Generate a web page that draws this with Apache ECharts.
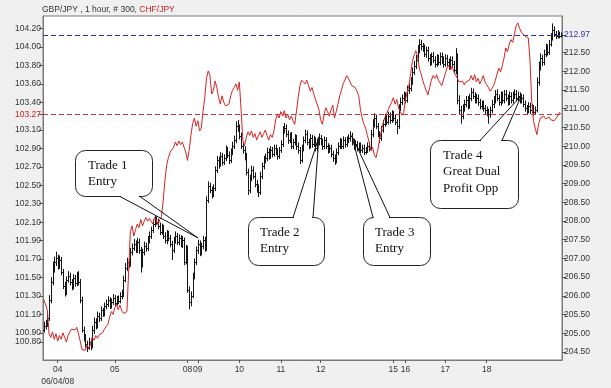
<!DOCTYPE html>
<html><head><meta charset="utf-8">
<script src="https://cdn.jsdelivr.net/npm/echarts@6/dist/echarts.min.js"></script>
<style>html,body{margin:0;padding:0;background:#f0f0f0}#c{width:611px;height:388px}</style>
</head><body><div id="c"></div>
<script>
// GBP/JPY hourly bars (right axis)
const gbpOpen = [
205.10,205.20,205.25,205.41,205.89,206.37,206.75,206.91,207.01,206.80,
206.96,206.64,206.26,206.10,206.43,206.53,206.37,206.26,206.48,206.34,
206.53,206.37,205.89,205.09,204.87,204.71,204.61,204.77,204.66,205.09,
205.30,205.20,205.46,205.41,205.62,205.52,205.73,205.78,205.89,205.73,
205.84,205.94,205.81,205.92,205.86,206.00,206.05,206.43,206.75,206.91,
206.85,207.17,207.28,207.39,207.23,207.44,207.23,206.85,207.17,207.33,
207.28,207.49,207.60,207.76,207.92,208.03,207.98,207.87,207.71,207.82,
207.60,207.49,207.66,207.55,207.39,207.23,207.49,207.60,207.44,207.55,
207.39,207.49,206.91,207.28,206.16,205.84,206.00,206.53,206.91,207.23,
207.39,207.17,207.33,207.49,207.28,208.56,208.94,208.83,208.73,208.89,
209.37,209.63,209.53,209.74,209.58,209.69,209.90,209.77,209.63,209.85,
210.01,210.17,210.54,210.49,210.28,210.01,209.90,209.74,209.31,208.83,
209.15,209.37,209.21,208.99,208.89,208.78,209.21,209.47,209.63,209.69,
209.85,209.74,209.90,209.79,209.95,209.85,209.74,209.90,210.06,210.44,
210.49,210.33,210.17,210.28,210.01,210.11,210.22,210.01,209.90,209.63,
209.95,210.17,210.33,210.11,210.01,210.22,210.06,210.17,209.95,210.11,
210.22,210.11,210.01,210.17,210.01,209.90,209.95,209.79,209.69,209.63,
209.85,210.01,210.11,210.01,210.17,210.06,210.17,210.22,210.28,210.11,
210.01,210.06,209.95,210.01,209.90,209.95,209.85,209.90,210.01,209.95,
210.33,210.60,210.76,210.54,210.33,210.22,210.44,210.60,210.76,210.65,
210.81,210.70,210.86,210.76,210.65,210.54,211.02,211.18,211.29,211.35,
211.24,211.51,211.56,211.72,211.99,212.15,212.31,212.57,212.74,212.68,
212.63,212.47,212.57,212.36,212.25,212.41,212.31,212.20,212.36,212.25,
212.41,212.31,212.20,212.36,212.25,212.15,212.31,212.20,212.04,212.41,
211.24,210.97,210.81,211.02,211.13,211.24,211.08,211.29,211.45,211.35,
211.24,211.29,211.18,211.08,211.13,211.02,210.97,210.92,210.86,210.97,
211.13,211.24,211.40,211.29,211.18,211.35,211.24,211.40,211.29,211.18,
211.35,211.24,211.35,211.40,211.29,211.35,211.24,211.29,211.13,211.02,
210.97,211.08,210.97,211.02,210.92,210.97,211.72,212.15,212.36,212.25,
212.47,212.63,212.52,212.74,212.90,213.11,213.00,212.95,213.00,212.95];
const gbpHigh = [
205.31,205.36,205.55,206.02,206.50,206.92,207.05,207.18,207.10,207.08,
207.04,206.72,206.38,206.52,206.66,206.62,206.45,206.58,206.56,206.64,
206.66,206.45,205.98,205.18,204.98,204.80,204.88,204.86,205.20,205.42,
205.40,205.58,205.55,205.72,205.68,205.82,205.90,205.99,205.96,205.93,
206.05,206.02,206.00,206.01,206.10,206.16,206.54,206.88,207.02,206.99,
207.28,207.40,207.52,207.48,207.55,207.53,207.31,207.26,207.45,207.42,
207.60,207.72,207.85,208.04,208.14,208.12,208.06,207.96,207.93,207.90,
207.70,207.76,207.74,207.63,207.47,207.58,207.72,207.68,207.64,207.62,
207.60,207.56,207.36,207.34,206.25,206.12,206.62,207.00,207.32,207.50,
207.48,207.42,207.60,207.58,208.66,209.06,209.02,208.92,208.98,209.46,
209.74,209.72,209.84,209.82,209.78,210.02,209.98,209.86,209.94,210.12,
210.28,210.66,210.70,210.58,210.36,210.10,210.00,209.82,209.40,209.24,
209.48,209.46,209.30,209.10,208.98,209.32,209.56,209.74,209.80,209.96,
209.94,210.00,209.98,210.04,210.04,209.94,209.98,210.16,210.54,210.62,
210.58,210.42,210.36,210.38,210.20,210.32,210.30,210.10,209.98,210.04,
210.26,210.44,210.42,210.20,210.32,210.30,210.28,210.24,210.20,210.34,
210.30,210.20,210.26,210.24,210.08,210.04,210.04,209.88,209.78,209.94,
210.10,210.22,210.20,210.26,210.24,210.26,210.32,210.40,210.36,210.20,
210.16,210.14,210.10,210.10,210.04,210.04,209.98,210.10,210.10,210.44,
210.72,210.88,210.84,210.62,210.40,210.54,210.70,210.86,210.84,210.92,
210.90,210.96,210.94,210.84,210.72,211.12,211.30,211.38,211.46,211.44,
211.62,211.68,211.84,212.10,212.28,212.44,212.70,212.86,212.84,212.76,
212.72,212.66,212.66,212.46,212.50,212.52,212.40,212.46,212.44,212.50,
212.50,212.40,212.46,212.44,212.34,212.40,212.40,212.28,212.62,212.48,
211.36,211.08,211.12,211.24,211.34,211.34,211.40,211.56,211.54,211.44,
211.40,211.38,211.26,211.22,211.22,211.10,211.06,211.00,211.06,211.24,
211.34,211.50,211.52,211.38,211.46,211.46,211.50,211.50,211.38,211.46,
211.44,211.46,211.52,211.50,211.46,211.44,211.40,211.38,211.22,211.10,
211.18,211.16,211.12,211.10,211.06,211.84,212.26,212.48,212.44,212.58,
212.74,212.72,212.84,213.02,213.28,213.20,213.08,213.10,213.06,213.04];
const gbpLow = [
205.02,205.10,205.17,205.33,205.80,206.28,206.62,206.80,206.70,206.72,
206.55,206.18,205.98,206.02,206.35,206.28,206.15,206.17,206.25,206.26,
206.28,205.80,205.02,204.78,204.62,204.50,204.56,204.55,204.60,204.98,
205.10,205.13,205.30,205.33,205.44,205.45,205.64,205.70,205.65,205.66,
205.76,205.72,205.74,205.78,205.80,205.91,205.97,206.36,206.66,206.75,
206.78,207.08,207.20,207.14,207.15,207.12,206.62,206.76,207.08,207.18,
207.20,207.40,207.52,207.68,207.84,207.90,207.78,207.62,207.63,207.52,
207.40,207.38,207.46,207.30,206.96,207.14,207.40,207.36,207.35,207.30,
207.28,206.82,206.84,206.08,205.64,205.72,205.94,206.44,206.82,207.12,
207.06,207.08,207.24,207.18,207.20,208.48,208.74,208.60,208.64,208.80,
209.28,209.40,209.45,209.48,209.50,209.60,209.68,209.52,209.55,209.76,
209.92,210.08,210.38,210.18,209.92,209.80,209.62,209.22,208.70,208.74,
209.06,209.12,208.90,208.76,208.64,208.70,209.12,209.38,209.54,209.60,
209.64,209.66,209.70,209.72,209.76,209.64,209.66,209.82,209.98,210.34,
210.24,210.06,210.08,209.92,209.92,210.02,209.90,209.80,209.52,209.56,
209.86,210.08,210.02,209.92,209.94,209.96,209.98,209.86,209.86,210.02,
210.02,209.90,209.92,209.92,209.80,209.82,209.70,209.58,209.50,209.54,
209.76,209.92,209.92,209.92,209.96,209.98,210.08,210.12,210.02,209.90,
209.92,209.86,209.86,209.82,209.82,209.76,209.78,209.82,209.86,209.88,
210.24,210.50,210.46,210.24,210.08,210.14,210.36,210.52,210.56,210.58,
210.60,210.62,210.66,210.56,210.32,210.46,210.94,211.10,211.20,211.14,
211.16,211.40,211.46,211.64,211.90,212.06,212.22,212.48,212.56,212.52,
212.38,212.36,212.26,212.14,212.16,212.22,212.10,212.12,212.16,212.16,
212.20,212.10,212.12,212.14,212.04,212.06,212.10,211.94,211.92,211.12,
210.86,210.60,210.72,210.92,211.04,210.98,211.00,211.20,211.26,211.14,
211.14,211.08,210.98,210.98,210.92,210.86,210.80,210.60,210.76,210.88,
211.02,211.14,211.20,211.08,211.08,211.14,211.14,211.20,211.08,211.10,
211.14,211.14,211.26,211.20,211.20,211.14,211.14,211.04,210.92,210.86,
210.88,210.86,210.88,210.82,210.84,210.90,211.62,212.02,212.14,212.16,
212.38,212.42,212.44,212.66,212.82,212.92,212.86,212.88,212.88,212.90];
const gbpClose = [
205.20,205.25,205.41,205.89,206.37,206.75,206.91,207.01,206.80,206.96,
206.64,206.26,206.10,206.43,206.53,206.37,206.26,206.48,206.34,206.53,
206.37,205.89,205.09,204.87,204.71,204.61,204.77,204.66,205.09,205.30,
205.20,205.46,205.41,205.62,205.52,205.73,205.78,205.89,205.73,205.84,
205.94,205.81,205.92,205.86,206.00,206.05,206.43,206.75,206.91,206.85,
207.17,207.28,207.39,207.23,207.44,207.23,206.85,207.17,207.33,207.28,
207.49,207.60,207.76,207.92,208.03,207.98,207.87,207.71,207.82,207.60,
207.49,207.66,207.55,207.39,207.23,207.49,207.60,207.44,207.55,207.39,
207.49,206.91,207.28,206.16,205.84,206.00,206.53,206.91,207.23,207.39,
207.17,207.33,207.49,207.28,208.56,208.94,208.83,208.73,208.89,209.37,
209.63,209.53,209.74,209.58,209.69,209.90,209.77,209.63,209.85,210.01,
210.17,210.54,210.49,210.28,210.01,209.90,209.74,209.31,208.83,209.15,
209.37,209.21,208.99,208.89,208.78,209.21,209.47,209.63,209.69,209.85,
209.74,209.90,209.79,209.95,209.85,209.74,209.90,210.06,210.44,210.49,
210.33,210.17,210.28,210.01,210.11,210.22,210.01,209.90,209.63,209.95,
210.17,210.33,210.11,210.01,210.22,210.06,210.17,209.95,210.11,210.22,
210.11,210.01,210.17,210.01,209.90,209.95,209.79,209.69,209.63,209.85,
210.01,210.11,210.01,210.17,210.06,210.17,210.22,210.28,210.11,210.01,
210.06,209.95,210.01,209.90,209.95,209.85,209.90,210.01,209.95,210.33,
210.60,210.76,210.54,210.33,210.22,210.44,210.60,210.76,210.65,210.81,
210.70,210.86,210.76,210.65,210.54,211.02,211.18,211.29,211.35,211.24,
211.51,211.56,211.72,211.99,212.15,212.31,212.57,212.74,212.68,212.63,
212.47,212.57,212.36,212.25,212.41,212.31,212.20,212.36,212.25,212.41,
212.31,212.20,212.36,212.25,212.15,212.31,212.20,212.04,212.41,211.24,
210.97,210.81,211.02,211.13,211.24,211.08,211.29,211.45,211.35,211.24,
211.29,211.18,211.08,211.13,211.02,210.97,210.92,210.86,210.97,211.13,
211.24,211.40,211.29,211.18,211.35,211.24,211.40,211.29,211.18,211.35,
211.24,211.35,211.40,211.29,211.35,211.24,211.29,211.13,211.02,210.97,
211.08,210.97,211.02,210.92,210.97,211.72,212.15,212.36,212.25,212.47,
212.63,212.52,212.74,212.90,213.11,213.00,212.95,213.00,212.95,212.97];
// CHF/JPY hourly closes (left axis)
const chfClose = [
101.26,101.28,101.15,100.89,100.85,100.91,100.83,100.89,100.81,100.87,
100.83,100.90,100.85,100.80,100.87,100.91,100.94,100.96,100.93,100.96,
100.89,100.81,100.72,100.74,100.71,100.77,100.73,100.78,100.85,100.82,
100.87,100.84,100.88,100.86,100.90,100.94,100.96,100.99,101.07,101.13,
101.10,101.17,101.21,101.15,101.20,101.14,101.11,101.09,101.13,101.11,
102.00,102.06,101.95,102.02,102.08,102.04,102.13,102.06,102.11,102.15,
102.11,102.14,102.12,102.08,102.15,102.12,102.07,102.13,102.16,102.34,
102.56,102.72,102.80,102.86,102.88,102.91,102.97,102.93,102.98,102.94,
102.97,102.95,102.86,102.77,102.88,103.04,103.17,103.23,103.14,103.20,
103.09,103.12,103.30,103.45,103.66,103.74,103.69,103.49,103.53,103.63,
103.56,103.45,103.38,103.47,103.40,103.36,103.34,103.38,103.47,103.53,
103.56,103.60,103.53,103.62,103.32,102.99,102.93,103.02,103.08,103.04,
103.09,103.02,103.06,102.99,103.04,103.08,103.02,103.06,103.10,103.04,
102.99,103.05,103.02,103.09,103.21,103.27,103.23,103.30,103.25,103.31,
103.23,103.27,103.21,103.25,103.20,103.16,103.30,103.45,103.58,103.64,
103.66,103.60,103.64,103.58,103.52,103.56,103.49,103.43,103.45,103.32,
103.21,103.16,103.27,103.34,103.30,103.25,103.32,103.37,103.23,103.30,
103.38,103.47,103.53,103.60,103.64,103.69,103.66,103.62,103.58,103.60,
103.56,103.52,103.47,103.32,103.23,103.16,103.12,103.04,102.97,102.88,
102.91,102.83,102.80,102.88,102.99,103.08,103.17,103.23,103.27,103.32,
103.34,103.40,103.45,103.38,103.43,103.34,103.30,103.26,103.29,103.43,
103.51,103.58,103.71,103.84,103.91,103.96,103.90,103.77,103.71,103.64,
103.58,103.53,103.48,103.56,103.64,103.69,103.66,103.70,103.64,103.62,
103.58,103.60,103.71,103.77,103.80,103.75,103.79,103.73,103.71,103.66,
103.62,103.60,103.63,103.59,103.62,103.60,103.64,103.69,103.64,103.70,
103.62,103.66,103.60,103.64,103.69,103.62,103.59,103.56,103.52,103.54,
103.58,103.64,103.71,103.77,103.73,103.80,103.88,103.99,103.95,104.03,
104.08,104.05,104.14,104.23,104.26,104.20,104.16,104.18,104.12,104.14,
104.10,103.86,103.41,103.20,103.12,103.05,103.17,103.23,103.21,103.25,
103.22,103.20,103.24,103.21,103.23,103.20,103.22,103.25,103.29,103.27];
// day tick labels (bar index -> label)
const dayTickIndex = [8, 41, 83, 89, 113, 137, 160, 202, 209, 232, 256];
const dayTickText = ['04', '05', '08', '09', '10', '11', '12', '15', '16', '17', '18'];
const firstDateText = '06/04/08';
const leftTicks = [100.80, 100.90, 101.10, 101.30, 101.50, 101.70, 101.90, 102.10, 102.30, 102.50, 102.70, 102.90, 103.10, 103.27, 103.40, 103.60, 103.80, 104.00, 104.20];
const rightTicks = [204.50, 205.00, 205.50, 206.00, 206.50, 207.00, 207.50, 208.00, 208.50, 209.00, 209.50, 210.00, 210.50, 211.00, 211.50, 212.00, 212.50, 212.97];
const gbpLast = 212.97;
const chfLast = 103.27;
// callouts: text lines and the bar/price they point to
const calloutText = [['Trade 1', 'Entry'], ['Trade 2', 'Entry'], ['Trade 3', 'Entry'], ['Trade 4', 'Great Dual', 'Profit Opp']];
const calloutBar = [89, 159, 178, 276];
const calloutPrice = [207.55, 210.25, 210.28, 211.35];

const N = gbpClose.length;
const categories = [];
for (let i = 0; i < N; i++) categories.push(String(i));
const tickMap = {};
dayTickIndex.forEach((idx, k) => { tickMap[idx] = dayTickText[k]; });
const barData = [];
for (let i = 0; i < N; i++) barData.push([i, gbpOpen[i], gbpHigh[i], gbpLow[i], gbpClose[i]]);

const chart = echarts.init(document.getElementById('c'), null, {renderer: 'canvas'});
const FONT = 'Liberation Sans, Arial, sans-serif';
const axisFont = {fontFamily: FONT, fontSize: 8.5, color: '#333'};
const GRID = {left: 43, right: 49, top: 16, bottom: 28};

chart.setOption({
  animation: false,
  backgroundColor: '#f0f0f0',
  title: {
    text: '{a|GBP/JPY , 1 hour, # 300, }{b|CHF/JPY}',
    left: 42, top: 5, padding: 0,
    textStyle: {fontWeight: 'normal', rich: {
      a: {color: '#333', fontSize: 8.5, fontFamily: FONT, fontWeight: 'normal'},
      b: {color: '#d02020', fontSize: 8.5, fontFamily: FONT, fontWeight: 'normal'}
    }}
  },
  grid: Object.assign({show: true, backgroundColor: '#ffffff', borderColor: '#7a7a7a', borderWidth: 1}, GRID),
  xAxis: {
    type: 'category', data: categories, boundaryGap: true,
    axisLine: {show: true, lineStyle: {color: '#7a7a7a'}},
    axisTick: {show: true, alignWithLabel: true, length: 3, lineStyle: {color: '#555'},
      interval: (idx) => tickMap[idx] !== undefined},
    axisLabel: Object.assign({}, axisFont, {
      margin: 4, lineHeight: 12,
      interval: (idx) => tickMap[idx] !== undefined,
      formatter: (v, idx) => {
        const t = tickMap[idx] || '';
        return idx === dayTickIndex[0] ? t + '\n' + firstDateText : t;
      }
    }),
    splitLine: {show: false}
  },
  yAxis: [
    {
      type: 'value', position: 'left', min: 100.605, max: 104.336,
      axisLine: {show: true, lineStyle: {color: '#7a7a7a'}},
      axisTick: {show: true, length: 4, customValues: leftTicks, lineStyle: {color: '#555'}},
      axisLabel: Object.assign({}, axisFont, {
        margin: 2, customValues: leftTicks,
        formatter: (v) => v.toFixed(2),
        color: (v) => Math.abs(v - chfLast) < 0.001 ? '#d02020' : '#333'
      }),
      splitLine: {show: false}
    },
    {
      type: 'value', position: 'right', min: 204.286, max: 213.478,
      axisLine: {show: true, lineStyle: {color: '#7a7a7a'}},
      axisTick: {show: true, length: 4, customValues: rightTicks, lineStyle: {color: '#555'}},
      axisLabel: Object.assign({}, axisFont, {
        margin: 2, customValues: rightTicks,
        formatter: (v) => v.toFixed(2),
        color: (v) => Math.abs(v - gbpLast) < 0.001 ? '#3333b0' : '#333'
      }),
      splitLine: {show: false}
    }
  ],
  series: [
    {
      name: 'GBP/JPY', type: 'custom', xAxisIndex: 0, yAxisIndex: 1,
      data: barData,
      encode: {x: 0, y: [1, 2, 3, 4]},
      renderItem: (params, api) => {
        const i = api.value(0);
        const o = api.coord([i, api.value(1)]);
        const h = api.coord([i, api.value(2)]);
        const l = api.coord([i, api.value(3)]);
        const c = api.coord([i, api.value(4)]);
        const px = Math.round(o[0]) + 0.5;
        const st = {stroke: '#151515', lineWidth: 1};
        return {type: 'group', children: [
          {type: 'line', shape: {x1: px, y1: h[1], x2: px, y2: l[1]}, style: st},
          {type: 'line', shape: {x1: px - 1.5, y1: Math.round(o[1]) + 0.5, x2: px, y2: Math.round(o[1]) + 0.5}, style: st},
          {type: 'line', shape: {x1: px, y1: Math.round(c[1]) + 0.5, x2: px + 1.5, y2: Math.round(c[1]) + 0.5}, style: st}
        ]};
      },
      markLine: {
        silent: true, symbol: ['none', 'none'], label: {show: false},
        lineStyle: {color: '#3030a8', type: [5, 3], width: 1},
        data: [{yAxis: gbpLast}]
      },
      z: 2
    },
    {
      name: 'CHF/JPY', type: 'line', xAxisIndex: 0, yAxisIndex: 0,
      data: chfClose, showSymbol: false, symbol: 'none',
      lineStyle: {color: '#d42424', width: 1},
      markLine: {
        silent: true, symbol: ['none', 'none'], label: {show: false},
        lineStyle: {color: '#c03838', type: [5, 3], width: 1},
        data: [{yAxis: chfLast}]
      },
      z: 3
    }
  ]
});

// callout boxes (layout in pixels), pointer tips from data via the chart's scales
const boxes = [
  {x: 75, y: 150, w: 77, h: 46, edge: 'bottom', b1: 120, b2: 140, tx: 88, ty: 157},
  {x: 248, y: 217, w: 76, h: 48, edge: 'top', b1: 293, b2: 313, tx: 260, ty: 224},
  {x: 363, y: 217, w: 67, h: 48, edge: 'top', b1: 373, b2: 390, tx: 375, ty: 224},
  {x: 430, y: 140, w: 88, h: 68, edge: 'top', b1: 480, b2: 502, tx: 443, ty: 147}
];
const elements = [];
boxes.forEach((b, k) => {
  const tip = chart.convertToPixel({seriesIndex: 0}, [calloutBar[k], calloutPrice[k]]);
  const ey = b.edge === 'top' ? b.y : b.y + b.h;
  elements.push({type: 'rect', shape: {x: b.x + 0.5, y: b.y + 0.5, width: b.w, height: b.h, r: 10},
    style: {fill: '#fff', stroke: '#222', lineWidth: 1}, z: 100});
  elements.push({type: 'line', shape: {x1: b.b1 + 1, y1: ey + 0.5, x2: b.b2 - 1, y2: ey + 0.5},
    style: {stroke: '#fff', lineWidth: 2}, z: 101});
  elements.push({type: 'line', shape: {x1: b.b1, y1: ey + 0.5, x2: tip[0], y2: tip[1]},
    style: {stroke: '#111', lineWidth: 1}, z: 101});
  elements.push({type: 'line', shape: {x1: b.b2, y1: ey + 0.5, x2: tip[0], y2: tip[1]},
    style: {stroke: '#111', lineWidth: 1}, z: 101});
  elements.push({type: 'text', x: b.tx, y: b.ty, z: 102,
    style: {text: calloutText[k].join('\n'), fill: '#111', font: '13px "Liberation Serif", "Times New Roman", serif', lineHeight: 16.5}});
});
chart.setOption({graphic: {elements: elements}});
</script>
</body></html>
